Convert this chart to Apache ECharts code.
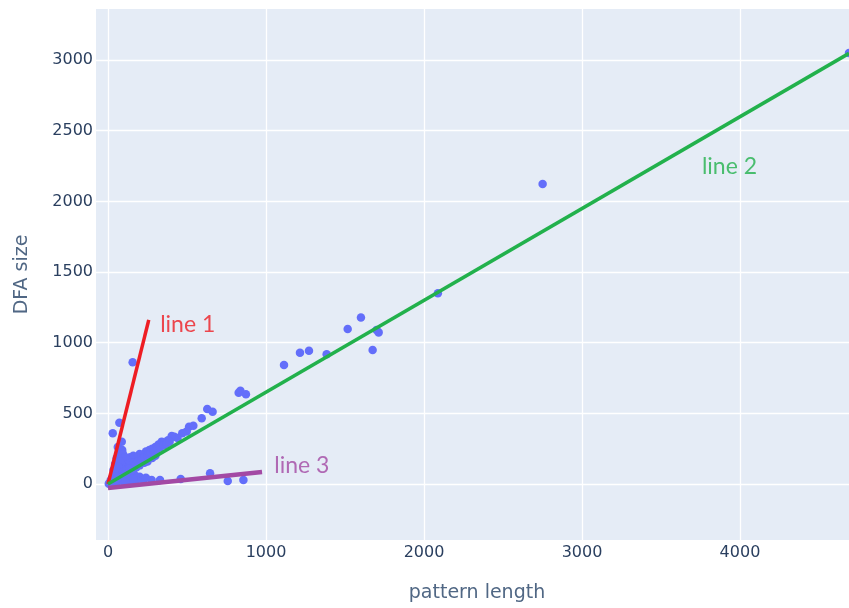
<!DOCTYPE html>
<html>
<head>
<meta charset="utf-8">
<script src="https://cdn.jsdelivr.net/npm/echarts@6/dist/echarts.min.js"></script>
<style>
html,body{margin:0;padding:0;background:#fff;overflow:hidden;width:849px;height:608px;}
#chart{width:858px;height:608px;}
</style>
</head>
<body>
<div id="chart"></div>
<script>
// Scatter points: [pattern length, DFA size]
const points = [
  [4690,3050],[2751,2123],[2088,1349],[1601,1179],[1517,1097],[1713,1073],[1700,1090],[1675,948],
  [1384,918],[1272,943],[1215,929],[1114,842],[827,645],[838,660],[873,635],
  [628,531],[662,512],[593,465],[513,405],[540,413],[498,372],[470,360],[440,325],[420,335],
  [403,340],[380,310],[360,292],[340,300],[320,280],[300,262],[280,250],[262,240],[240,230],
  [220,205],[200,212],[180,190],[160,200],[140,190],[120,170],[105,160],
  [156,861],[72,434],[30,359],[87,299],[62,262],[76,222],[55,182],[90,182],[45,142],[70,130],
  [100,150],[35,100],[60,92],[85,102],[110,122],[50,60],[25,40],[40,70],
  [100,72],[150,100],[200,132],[250,160],[130,82],[180,118],[230,150],[280,185],[300,200],
  [100,42],[150,60],[120,30],[200,52],[80,30],[60,20],[40,15],[20,10],[10,5],[30,28],[15,20],[5,2],
  [181,28],[223,28],[276,28],[329,28],[460,35],[646,76],[758,21],[857,28],[100,10],[140,15],
  [90,240],[80,200],[95,210],[110,190],[120,140],[130,120],[140,150],[160,150],[170,130],
  [190,160],[210,170],[230,190],[250,200],[260,215],[270,225],[290,230],[310,245],[330,260],
  [350,275],[370,285],[390,300],[75,160],[65,120],[50,110],[95,80],[115,100],[135,110],
  [160,80],[170,60],[120,55],[90,55],[70,45],[55,35],[45,55],[20,30],[110,20],[160,40],[240,45]
];
// Reference lines (endpoints)
const line1 = [[0,0],[258,1161]];
const line2 = [[0,0],[4690,3047]];
const line3 = [[0,-28],[975,85]];
// Line annotations: [x, y, text]
const labelNames = ['line 1','line 2','line 3'];
const labelPos = [[330,1125],[3759,2243],[1052,134]];
const labelColors = ['#EE1D23','#22B14C','#A349A4'];
// Axes
const xTicks = [0,1000,2000,3000,4000];
const yTicks = [0,500,1000,1500,2000,2500,3000];
const xRange = [-76, 4747];
const yRange = [-396, 3361];

const chart = echarts.init(document.getElementById('chart'));
const tickColor = '#2a3f5f';
const axisFont = '"DejaVu Sans", Verdana, sans-serif';
const labelSeries = labelNames.map((n,i)=>({
  type:'scatter', symbolSize:0, silent:true, z:10,
  data:[{value:labelPos[i], name:n}],
  label:{show:true, position:'right', distance:0, formatter:'{b}',
    color:labelColors[i], fontSize:23, fontFamily:'Lato, "Open Sans", sans-serif'}
}));
const plain = v => String(v);
chart.setOption({
  animation:false,
  backgroundColor:'#ffffff',
  grid:{left:96, right:0, top:9, bottom:68, backgroundColor:'#E5ECF6', show:true, borderWidth:0},
  xAxis:{
    type:'value', min:xRange[0], max:xRange[1],
    name:'pattern length', nameLocation:'middle', nameGap:44,
    nameTextStyle:{color:'#506784', fontSize:19, fontFamily:axisFont},
    axisLine:{show:false}, axisTick:{show:false, customValues:xTicks},
    axisLabel:{customValues:xTicks, formatter:plain, color:tickColor, fontSize:16, margin:5, fontFamily:axisFont},
    splitLine:{show:true, lineStyle:{color:'#ffffff', width:1.3}}
  },
  yAxis:{
    type:'value', min:yRange[0], max:yRange[1],
    name:'DFA size', nameLocation:'middle', nameGap:64,
    nameTextStyle:{color:'#506784', fontSize:19, fontFamily:axisFont},
    axisLine:{show:false}, axisTick:{show:false, customValues:yTicks},
    axisLabel:{customValues:yTicks, formatter:plain, color:tickColor, fontSize:16, margin:3, fontFamily:axisFont},
    splitLine:{show:true, lineStyle:{color:'#ffffff', width:1.3}}
  },
  series:[
    {type:'scatter', data:points, symbolSize:8.5, itemStyle:{color:'#636EFA', opacity:1}, z:2},
    {type:'line', data:line1, symbol:'none', lineStyle:{color:'#EE1D23', width:3.5}, z:3},
    {type:'line', data:line2, symbol:'none', lineStyle:{color:'#22B14C', width:3.5}, z:3},
    {type:'line', data:line3, symbol:'none', lineStyle:{color:'#A349A4', width:4.5}, z:3},
    ...labelSeries
  ]
});
</script>
</body>
</html>
